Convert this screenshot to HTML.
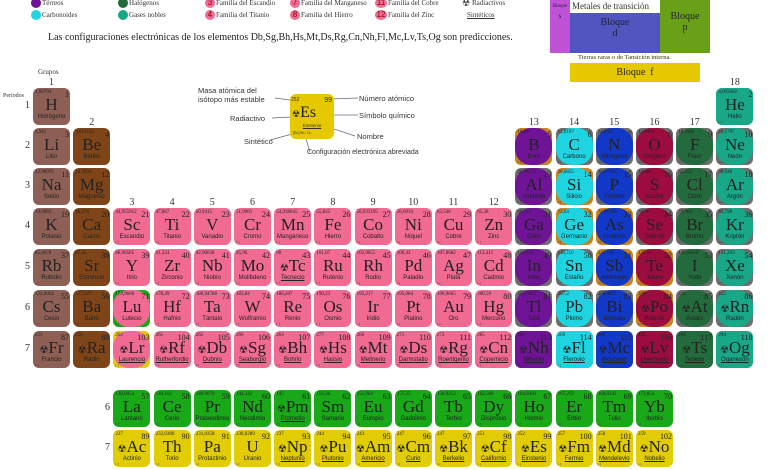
<!DOCTYPE html>
<html><head><meta charset="utf-8">
<style>
body{margin:0;width:780px;height:470px;overflow:hidden;background:#fff;font-family:"Liberation Sans",sans-serif;position:relative}
.a{position:absolute}
.cell{position:absolute;width:37px;height:37px;border-radius:6px;overflow:hidden}
.in{position:absolute;left:0;top:0;width:37px;height:37px}
.sym{position:absolute;left:0;width:37px;top:7px;text-align:center;font-family:"Liberation Serif",serif;font-size:17px;color:#222;white-space:nowrap}
.nm{position:absolute;left:-3px;width:43px;top:26px;text-align:center;font-size:6px;color:#222;white-space:nowrap}
.num{position:absolute;right:1px;top:2px;font-family:"Liberation Serif",serif;font-size:8px;color:#222}
.ms{position:absolute;left:2px;top:2px;font-family:"Liberation Serif",serif;font-size:5px;color:#222}
.cf{position:absolute;left:2px;bottom:1px;font-size:3px;color:#333}
.gl{position:absolute;font-family:"Liberation Serif",serif;font-size:10px;color:#333;width:37px;text-align:center}
.pl{position:absolute;font-family:"Liberation Serif",serif;font-size:10px;color:#333}
.lg{position:absolute;font-family:"Liberation Serif",serif;font-size:7px;color:#333;white-space:nowrap}
.dot{position:absolute;width:10px;height:10px;border-radius:50%;font-size:8px;color:#800;text-align:center;line-height:10px}
</style></head><body>
<div id="legend">
<div class="dot" style="left:31px;top:-2px;background:#6f1496"></div><div class="lg" style="left:42px;top:-1px">Térreos</div>
<div class="dot" style="left:31px;top:10px;background:#1ed4e0"></div><div class="lg" style="left:42px;top:11px">Carbonoides</div>
<div class="dot" style="left:118px;top:-2px;background:#236b3c"></div><div class="lg" style="left:129px;top:-1px">Halógenos</div>
<div class="dot" style="left:118px;top:10px;background:#18a888"></div><div class="lg" style="left:129px;top:11px">Gases nobles</div>
<div class="dot" style="left:205px;top:-2px;background:#f06a92">3</div><div class="lg" style="left:216px;top:-1px">Familia del Escandio</div>
<div class="dot" style="left:205px;top:10px;background:#f06a92">4</div><div class="lg" style="left:216px;top:11px">Familia del Titanio</div>
<div class="dot" style="left:290px;top:-2px;background:#f06a92">7</div><div class="lg" style="left:301px;top:-1px">Familia del Manganeso</div>
<div class="dot" style="left:290px;top:10px;background:#f06a92">8</div><div class="lg" style="left:301px;top:11px">Familia del Hierro</div>
<div class="dot" style="left:375px;top:-2px;background:#f06a92;width:12px">11</div><div class="lg" style="left:388px;top:-1px">Familia del Cobre</div>
<div class="dot" style="left:375px;top:10px;background:#f06a92;width:12px">12</div><div class="lg" style="left:388px;top:11px">Familia del Zinc</div>
<div class="lg" style="left:462px;top:-2px;font-size:9px">☢</div><div class="lg" style="left:472px;top:-1px">Radiactivos</div>
<div class="lg" style="left:467px;top:11px;text-decoration:underline">Sintéticos</div>
</div>
<div class="a" style="left:48px;top:32px;font-family:'Liberation Serif',serif;font-size:10px;color:#222;white-space:nowrap">Las configuraciones electrónicas de los elementos Db,Sg,Bh,Hs,Mt,Ds,Rg,Cn,Nh,Fl,Mc,Lv,Ts,Og son predicciones.</div>

<div id="blocks">
<div class="a" style="left:550px;top:0;width:20px;height:53px;background:#c052d8;font-family:'Liberation Serif',serif;font-size:5px;text-align:center;color:#223"><div style="margin-top:4px">Bloque</div><div style="font-size:7px;margin-top:3px">s</div></div>
<div class="a" style="left:570px;top:13px;width:90px;height:40px;background:#5055c0;font-family:'Liberation Serif',serif;font-size:10px;text-align:center;color:#223"><div style="margin-top:4px">Bloque</div><div>d</div></div>
<div class="a" style="left:572px;top:1px;font-family:'Liberation Serif',serif;font-size:9px;color:#333;white-space:nowrap">Metales de transición</div>
<div class="a" style="left:660px;top:0;width:50px;height:53px;background:#6aa018;font-family:'Liberation Serif',serif;font-size:10px;text-align:center;color:#223"><div style="margin-top:11px">Bloque</div><div>p</div></div>
<div class="a" style="left:578px;top:54px;font-family:'Liberation Serif',serif;font-size:6.5px;color:#333;white-space:nowrap">Tierras raras o de Tansición interna.</div>
<div class="a" style="left:570px;top:63px;width:130px;height:19px;background:#e6c800;font-family:'Liberation Serif',serif;font-size:10px;text-align:center;line-height:19px;color:#223">Bloque &nbsp;f</div>
</div>

<div id="key">
<svg class="a" style="left:0;top:0" width="780" height="470">
<g stroke="#667" stroke-width="0.7" fill="none">
<line x1="275" y1="98" x2="290" y2="100"/><line x1="330" y1="99" x2="358" y2="98"/><line x1="272" y1="118" x2="292" y2="117"/><line x1="325" y1="115" x2="358" y2="115"/><line x1="325" y1="126" x2="355" y2="136"/><line x1="270" y1="140" x2="296" y2="133"/><line x1="306" y1="139" x2="310" y2="152"/>
</g></svg>
<div class="a" style="left:290px;top:94px;width:44px;height:45px;border-radius:6px;background:#e6c800">
<div class="a" style="left:1px;top:3px;font-size:5px;color:#333">252</div><div class="a" style="right:2px;top:3px;font-size:7px;color:#333">99</div>
<div class="a" style="left:2px;top:10px;font-family:'Liberation Serif',serif;font-size:16px;color:#222;white-space:nowrap"><span style="font-size:9px">☢</span>Es</div>
<div class="a" style="left:0;width:44px;top:29px;text-align:center;font-size:4.5px;text-decoration:underline;color:#333">Einstenio</div>
<div class="a" style="left:3px;top:37px;font-size:3.5px;color:#333">[Rn] 5f¹¹ 7s²</div></div>
<div class="lg" style="left:198px;top:86px;font-family:'Liberation Sans',sans-serif;font-size:7.5px;line-height:9px">Masa atómica del<br>isótopo más estable</div>
<div class="lg" style="left:230px;top:114px;font-family:'Liberation Sans',sans-serif;font-size:7.5px">Radiactivo</div>
<div class="lg" style="left:244px;top:137px;font-family:'Liberation Sans',sans-serif;font-size:7.5px">Sintético</div>
<div class="lg" style="left:359px;top:94px;font-family:'Liberation Sans',sans-serif;font-size:7.5px">Número atómico</div>
<div class="lg" style="left:359px;top:111px;font-family:'Liberation Sans',sans-serif;font-size:7.5px">Símbolo químico</div>
<div class="lg" style="left:357px;top:132px;font-family:'Liberation Sans',sans-serif;font-size:7.5px">Nombre</div>
<div class="lg" style="left:307px;top:149px;font-family:'Liberation Sans',sans-serif;font-size:7px">Configuración electrónica abreviada</div>
</div>

<div class="pl" style="left:38px;top:68px;font-size:7px">Grupos</div>
<div class="pl" style="left:3px;top:93px;font-size:6px">Periodos</div>
<div id="table"></div>

<script>
const symbols=["H","He","Li","Be","B","C","N","O","F","Ne","Na","Mg","Al","Si","P","S","Cl","Ar","K","Ca","Sc","Ti","V","Cr","Mn","Fe","Co","Ni","Cu","Zn","Ga","Ge","As","Se","Br","Kr","Rb","Sr","Y","Zr","Nb","Mo","Tc","Ru","Rh","Pd","Ag","Cd","In","Sn","Sb","Te","I","Xe","Cs","Ba","La","Ce","Pr","Nd","Pm","Sm","Eu","Gd","Tb","Dy","Ho","Er","Tm","Yb","Lu","Hf","Ta","W","Re","Os","Ir","Pt","Au","Hg","Tl","Pb","Bi","Po","At","Rn","Fr","Ra","Ac","Th","Pa","U","Np","Pu","Am","Cm","Bk","Cf","Es","Fm","Md","No","Lr","Rf","Db","Sg","Bh","Hs","Mt","Ds","Rg","Cn","Nh","Fl","Mc","Lv","Ts","Og"];
const names=["Hidrógeno","Helio","Litio","Berilio","Boro","Carbono","Nitrógeno","Oxígeno","Flúor","Neón","Sodio","Magnesio","Aluminio","Silicio","Fósforo","Azufre","Cloro","Argón","Potasio","Calcio","Escandio","Titanio","Vanadio","Cromo","Manganeso","Hierro","Cobalto","Níquel","Cobre","Zinc","Galio","Germanio","Arsénico","Selenio","Bromo","Kriptón","Rubidio","Estroncio","Itrio","Zirconio","Niobio","Molibdeno","Tecnecio","Rutenio","Rodio","Paladio","Plata","Cadmio","Indio","Estaño","Antimonio","Teluro","Yodo","Xenón","Cesio","Bario","Lantano","Cerio","Praseodimio","Neodimio","Prometio","Samario","Europio","Gadolinio","Terbio","Disprosio","Holmio","Erbio","Tulio","Iterbio","Lutecio","Hafnio","Tántalo","Wolframio","Renio","Osmio","Iridio","Platino","Oro","Mercurio","Talio","Plomo","Bismuto","Polonio","Ástato","Radón","Francio","Radio","Actinio","Torio","Protactinio","Uranio","Neptunio","Plutonio","Americio","Curio","Berkelio","Californio","Einstenio","Fermio","Mendelevio","Nobelio","Laurencio","Rutherfordio","Dubnio","Seaborgio","Bohrio","Hassio","Meitnerio","Darmstatio","Roentgenio","Copernicio","Nihonio","Flerovio","Moscovio","Livermorio","Teneso","Oganesón"];
const masses=["1,00794","4,002602","6,941","9,012182","10,811","12,0107","14,0067","15,9994","18,9984","20,1797","22,98976","24,3050","26,98153","28,0855","30,97696","32,065","35,453","39,948","39,0983","40,078","44,955912","47,867","50,9415","51,9961","54,938045","55,845","58,933195","58,6934","63,546","65,38","69,723","72,64","74,92160","78,96","79,904","83,798","85,4678","87,62","88,90585","91,224","92,90638","95,96","98","101,07","102,9055","106,42","107,8682","112,411","114,818","118,710","121,760","127,60","126,90447","131,293","132,9054","137,327","138,9054","140,116","140,9076","144,242","145","150,36","151,964","157,25","158,9253","162,500","164,9303","167,259","168,9342","173,054","174,9668","178,49","180,94788","183,84","186,207","190,23","192,217","195,084","196,9665","200,59","204,3833","207,2","208,9804","209","210","222","223","226","227","232,0380","231,0358","238,0289","237","244","243","247","247","251","252","257","258","259","262","261","262","266","264","277","268","271","272","285","284","289","288","292","294","294"];
const groupLabels=["1","2","3","4","5","6","7","8","9","10","11","12","13","14","15","16","17","18"];
const periodLabels=["1","2","3","4","5","6","7"];
const colors={alk:"#8d5f55",ae:"#7f4518",tr:"#f06a92",b:"#6f1496",c:"#1ed4e0",n:"#1238c8",o:"#9c0c3f",h:"#236b3c",ng:"#18a888",la:"#18a818",ac:"#e2cc06"};
const X0=33,PX=40.2,rowY=[88,128,168,208,249,290,331],laY=390,acY=430;
function colX(c){return X0+(c-1)*PX;}
function pos(z){
  if(z==1)return[1,1];if(z==2)return[18,1];
  if(z<=10)return[z<=4?z-2:z+8,2];
  if(z<=18)return[z<=12?z-10:z,3];
  if(z<=36)return[z-18,4];
  if(z<=54)return[z-36,5];
  if(z>=57&&z<=70)return[z-54,"la"];
  if(z>=89&&z<=102)return[z-86,"ac"];
  if(z<=86){return[z==55?1:z==56?2:z==71?3:z-68,6];}
  return[z==87?1:z==88?2:z==103?3:z-100,7];
}
function cat(z,c,r){
  if(r=="la")return"la";if(r=="ac")return"ac";
  if(c==1)return"alk";if(c==2)return"ae";if(c<=12)return"tr";
  return["b","c","n","o","h","ng"][c-13];
}
const tbl=document.getElementById("table");
const orange=[5,14,32,33,51,52,84,103];
for(let i=0;i<symbols.length;i++){
  const z=i+1,[c,r]=pos(z),k=cat(z,c,r);
  const x=colX(c),y=r=="la"?laY:r=="ac"?acY:rowY[r-1];
  const el=document.createElement("div");
  el.className="cell";
  
  
  el.style.left=x+"px";el.style.top=y+"px";
  const pblock=(c>=13&&typeof r=="number");
  const rad=(z==43||z==61||(z>=84&&z<=89)||z>=93);
  const syn=(z==43||z==61||z>=93);
  el.style.background=pblock?(orange.includes(z)?"#c8821e":"#6e6e6e"):colors[k];
  let inner=pblock?'<div class="in" style="background:'+colors[k]+';border-radius:'+(z>=113||z==2?'6px':'16px')+'"></div>':'';
  if(z==71||z==103)inner='<div class="in" style="background:'+(z==71?'#18a818':'#e2cc06')+'"></div><div class="in" style="background:#f06a92;border-radius:16px"></div>';
  el.innerHTML=inner+'<div class="ms">'+masses[i]+'</div><div class="num">'+z+'</div><div class="sym">'+(rad?'<span style="font-size:10px">☢</span>':'')+symbols[i]+'</div><div class="nm" style="'+(syn?'text-decoration:underline':'')+'">'+names[i]+'</div><div class="cf">[..]</div>';
  tbl.appendChild(el);
}
groupLabels.forEach((g,i)=>{
  const c=i+1;const d=document.createElement("div");d.className="gl";
  
  
  const y=(c==1||c==18)?77:(c==2||c>=13)?117:197;
  d.style.left=colX(c)+"px";d.style.top=y+"px";d.textContent=g;tbl.appendChild(d);
});
periodLabels.forEach((p,i)=>{
  const d=document.createElement("div");d.className="pl";
  
  
  d.style.left="25px";d.style.top=(rowY[i]+12)+"px";d.textContent=p;tbl.appendChild(d);
});
[["6",laY],["7",acY]].forEach(([p,y])=>{
  const d=document.createElement("div");d.className="pl";
  
  
  d.style.left="105px";d.style.top=(y+12)+"px";d.textContent=p;tbl.appendChild(d);
});
</script>
</body></html>
